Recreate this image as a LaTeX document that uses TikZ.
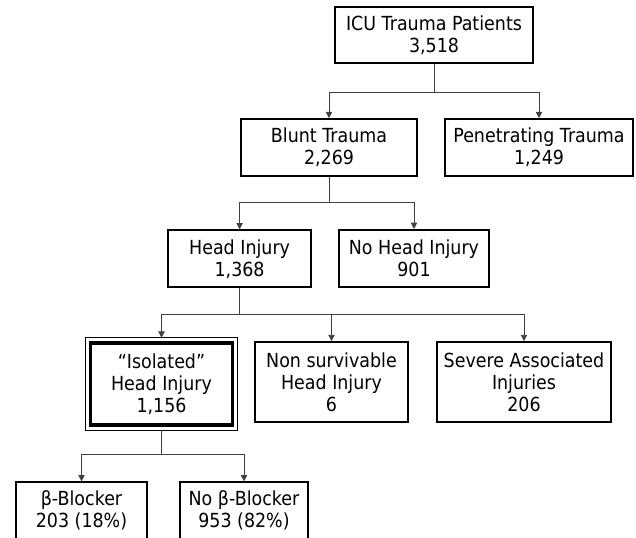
\documentclass[tikz,border=0pt]{standalone}
\usepackage{fontspec}
\setmainfont{DejaVu Sans}[FakeStretch=0.9]
\usepackage{xcolor}
\usetikzlibrary{arrows.meta}
\definecolor{linkgray}{HTML}{404040}

\begin{document}
\begin{tikzpicture}
  [
    box/.style={
       draw=black,
       line width=1.3pt,
       align=center,
       inner sep=1mm,
       font=\fontsize{13.8}{15.7}\selectfont
    },
    link/.style={
       draw=linkgray,
       line width=0.7pt,
       -{Triangle[length=4.5pt,width=4.5pt]}
    }
  ]
  \useasboundingbox (0,0) rectangle (15.9,-13.45);

  \node (icu)      at (10.85,  -0.875) [box, minimum width=4.95cm, minimum height=1.4cm]   {ICU Trauma Patients\\3,518};
  \node (blunt)    at ( 8.225, -3.69)  [box, minimum width=4.4cm,  minimum height=1.425cm] {Blunt Trauma\\2,269};
  \node (pen)      at (13.475, -3.69)  [box, minimum width=4.7cm,  minimum height=1.425cm] {Penetrating Trauma\\1,249};
  \node (head)     at ( 5.99,  -6.47)  [box, minimum width=3.575cm,minimum height=1.425cm] {Head Injury\\1,368};
  \node (nohead)   at (10.35,  -6.46)  [box, minimum width=3.75cm, minimum height=1.425cm] {No Head Injury\\901};
  \node (isolated) at ( 4.0375,-9.6)   [box, line width=2.6pt, minimum width=3.55cm, minimum height=2.05cm] {“Isolated”\\Head Injury\\1,156};
  \node (nonsurv)  at ( 8.2875,-9.55)  [box, minimum width=3.825cm,minimum height=2.0cm]   {Non survivable\\Head Injury\\6};
  \node (severe)   at (13.1,   -9.55)  [box, minimum width=4.35cm, minimum height=2.0cm]   {Severe Associated\\Injuries\\206};
  \node (beta)     at ( 2.0375,-12.77) [box, minimum width=3.275cm,minimum height=1.425cm] {β-Blocker\\203 (18\%)};
  \node (nobeta)   at ( 6.1,   -12.77) [box, minimum width=3.2cm,  minimum height=1.425cm] {No β-Blocker\\953 (82\%)};

  % thin outer frame of the double border
  \draw [line width=0.6pt] ([shift={(-0.085,0.085)}]isolated.north west) rectangle ([shift={(0.085,-0.085)}]isolated.south east);

  % branching levels
  \coordinate (j1) at (0, -2.3);
  \coordinate (j2) at (0, -5.05);
  \coordinate (j3) at (0, -7.85);
  \coordinate (j4) at (0,-11.35);

  \draw [link] (icu.south) -- (icu.south |- j1) -| (blunt.north);
  \draw [link] (icu.south) -- (icu.south |- j1) -| (pen.north);
  \draw [link] (blunt.south) -- (blunt.south |- j2) -| (head.north);
  \draw [link] (blunt.south) -- (blunt.south |- j2) -| (nohead.north);
  \draw [link] (head.south) -- (head.south |- j3) -| ([yshift=0.085cm]isolated.north);
  \draw [link] (head.south) -- (head.south |- j3) -| (nonsurv.north);
  \draw [link] (head.south) -- (head.south |- j3) -| (severe.north);
  \draw [link] ([yshift=-0.085cm]isolated.south) -- (isolated.south |- j4) -| (beta.north);
  \draw [link] ([yshift=-0.085cm]isolated.south) -- (isolated.south |- j4) -| (nobeta.north);
\end{tikzpicture}
\end{document}
